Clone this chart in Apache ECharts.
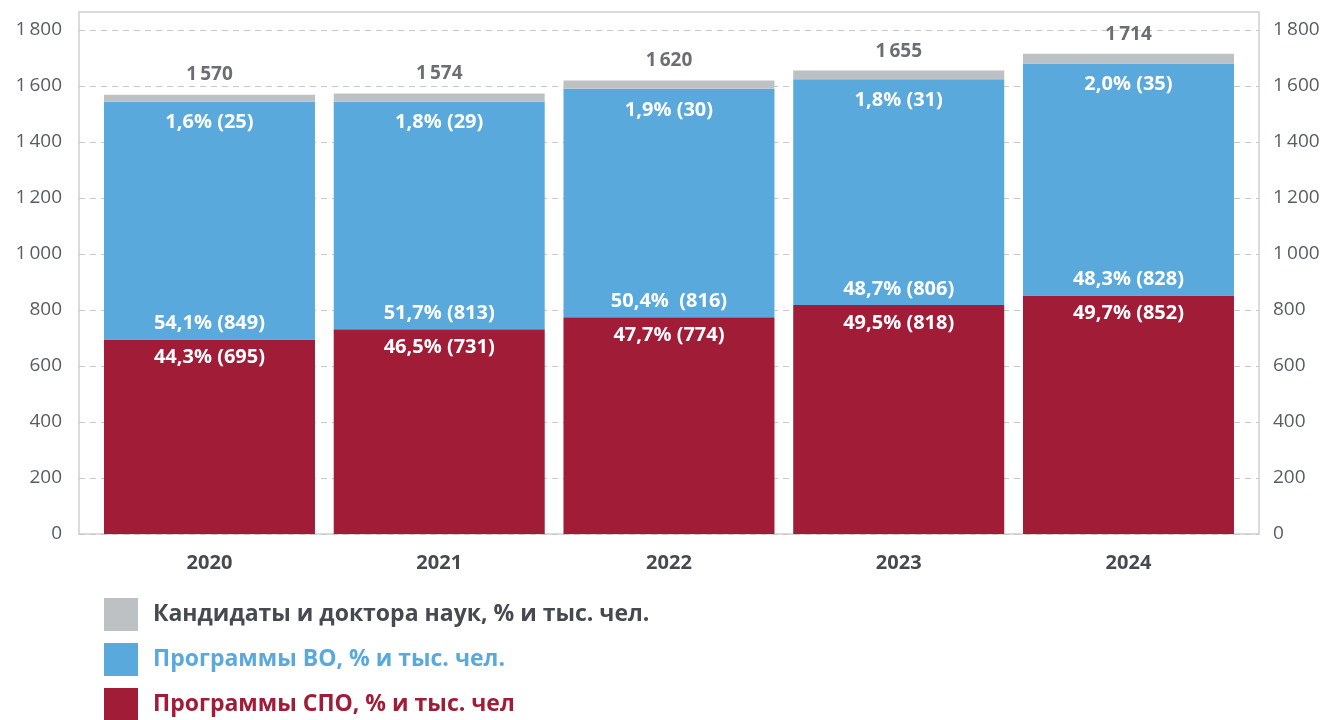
<!DOCTYPE html>
<html>
<head>
<meta charset="utf-8">
<script src="https://cdn.jsdelivr.net/npm/echarts@6/dist/echarts.min.js"></script>
<style>html,body{margin:0;padding:0;background:#fff}#c{width:1326px;height:720px}</style>
</head>
<body>
<div id="c"></div>
<script>
const years = ['2020', '2021', '2022', '2023', '2024'];
const spo = [695, 731, 774, 818, 852];
const vo = [849, 813, 816, 806, 828];
const cand = [25, 29, 30, 31, 35];
const totals = [1570, 1574, 1620, 1655, 1714];
const spoPct = ['44,3%', '46,5%', '47,7%', '49,5%', '49,7%'];
const voPct = ['54,1%', '51,7%', '50,4% ', '48,7%', '48,3%'];
const candPct = ['1,6%', '1,8%', '1,9%', '1,8%', '2,0%'];
const names = ['Кандидаты и доктора наук, % и тыс. чел.', 'Программы ВО, % и тыс. чел.', 'Программы СПО, % и тыс. чел'];
const yTicks = { min: 0, max: 1800, interval: 200 };

const RED = '#a11c36', BLUE = '#5aa9dc', GRAY = '#bec1c4', DARK = '#464a50';
const FONT = 'Open Sans';

const fmtY = v => v >= 1000 ? String(v).replace(/^(\d)(\d{3})$/, '$1\u2009$2') : String(v);
const fmtT = v => String(v).replace(/^(\d)(\d{3})$/, '$1\u2009$2');

const chart = echarts.init(document.getElementById('c'));
const barLabel = { show: true, color: '#fff', fontFamily: FONT, fontWeight: 'bold', fontSize: 20 };

chart.setOption({
  animation: false,
  textStyle: { fontFamily: FONT },
  graphic: [{
    type: 'rect', shape: { x: 79, y: 12, width: 1180, height: 522 },
    style: { fill: 'none', stroke: '#d0d0d0', lineWidth: 1.5 }, z: 0
  }],
  grid: [
    { left: 79, right: 67, top: 30, bottom: 186 },
    { left: 94.6, width: 1148.75, top: 30, bottom: 186 }
  ],
  legend: {
    orient: 'vertical', left: 104, top: 598, height: 130, padding: 0,
    itemWidth: 34, itemHeight: 33, itemGap: 12,
    icon: 'rect', selectedMode: false,
    textStyle: { fontFamily: FONT, fontWeight: 'bold', fontSize: 23, padding: [0, 0, 0, 10] },
    data: [
      { name: names[0], textStyle: { color: DARK } },
      { name: names[1], textStyle: { color: BLUE } },
      { name: names[2], textStyle: { color: RED } }
    ]
  },
  xAxis: [
    { type: 'value', gridIndex: 0, show: false, min: 0, max: 1 },
    {
      type: 'category', gridIndex: 1, data: years,
      axisLine: { show: false }, axisTick: { show: false },
      axisLabel: { color: DARK, fontFamily: FONT, fontWeight: 'bold', fontSize: 20, margin: 19 }
    }
  ],
  yAxis: [
    {
      type: 'value', gridIndex: 0, position: 'left', ...yTicks,
      axisLine: { show: false }, axisTick: { show: false },
      axisLabel: { color: '#585d63', fontFamily: FONT, fontSize: 19, margin: 17, formatter: fmtY },
      splitLine: { show: true, lineStyle: { color: '#c8c8c8', type: [6, 5], width: 1.2 } }
    },
    {
      type: 'value', gridIndex: 0, position: 'right', ...yTicks,
      axisLine: { show: false }, axisTick: { show: false },
      axisLabel: { color: '#585d63', fontFamily: FONT, fontSize: 19, margin: 14, formatter: fmtY },
      splitLine: { show: false }
    },
    { type: 'value', gridIndex: 1, ...yTicks, show: false, splitLine: { show: false } }
  ],
  series: [
    {
      name: names[2], type: 'bar', stack: 's', xAxisIndex: 1, yAxisIndex: 2,
      barWidth: 211, itemStyle: { color: RED }, data: spo,
      label: { ...barLabel, position: 'insideTop', distance: 8,
        formatter: p => spoPct[p.dataIndex] + ' (' + spo[p.dataIndex] + ')' }
    },
    {
      name: names[1], type: 'bar', stack: 's', xAxisIndex: 1, yAxisIndex: 2,
      barWidth: 211, itemStyle: { color: BLUE }, data: vo,
      label: { ...barLabel, position: 'insideBottom', distance: 6,
        formatter: p => voPct[p.dataIndex] + ' (' + vo[p.dataIndex] + ')' }
    },
    {
      name: names[0], type: 'bar', stack: 's', xAxisIndex: 1, yAxisIndex: 2,
      barWidth: 211, itemStyle: { color: GRAY }, data: cand,
      label: { ...barLabel, position: 'bottom', distance: 11,
        formatter: p => candPct[p.dataIndex] + ' (' + cand[p.dataIndex] + ')' }
    },
    {
      name: 'total', type: 'scatter', xAxisIndex: 1, yAxisIndex: 2,
      symbolSize: 0, data: totals, z: 5,
      label: { show: true, position: 'top', distance: 10, color: DARK, fontFamily: FONT,
        fontWeight: 'bold', fontSize: 19, formatter: p => fmtT(totals[p.dataIndex]) }
    }
  ]
});
</script>
</body>
</html>
